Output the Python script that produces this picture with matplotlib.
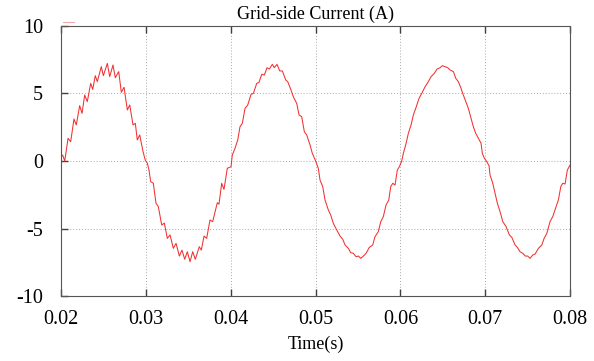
import numpy as np
import matplotlib
matplotlib.use("Agg")
import matplotlib.pyplot as plt
from matplotlib.lines import Line2D

# values (time in s, current in A)
time_s = [
    0.02000, 0.02020, 0.02044, 0.02083, 0.02114, 0.02153, 0.02180, 0.02220,
    0.02248, 0.02279, 0.02310, 0.02350, 0.02374, 0.02404, 0.02428, 0.02475,
    0.02499, 0.02546, 0.02574, 0.02613, 0.02640, 0.02680, 0.02711, 0.02743,
    0.02782, 0.02810, 0.02849, 0.02876, 0.02899, 0.02928, 0.02967, 0.02994,
    0.03017, 0.03037, 0.03057, 0.03088, 0.03120, 0.03147, 0.03187, 0.03218,
    0.03253, 0.03285, 0.03324, 0.03356, 0.03395, 0.03426, 0.03458, 0.03489,
    0.03521, 0.03552, 0.03583, 0.03630, 0.03654, 0.03686, 0.03717, 0.03756,
    0.03788, 0.03842, 0.03862, 0.03894, 0.03921, 0.03960, 0.04004, 0.04019,
    0.04051, 0.04083, 0.04110, 0.04137, 0.04169, 0.04201, 0.04240, 0.04267,
    0.04307, 0.04334, 0.04366, 0.04397, 0.04428, 0.04455, 0.04491, 0.04514,
    0.04546, 0.04578, 0.04609, 0.04649, 0.04672, 0.04711, 0.04738, 0.04778,
    0.04806, 0.04837, 0.04868, 0.04896, 0.04935, 0.04962, 0.05002, 0.05033,
    0.05053, 0.05085, 0.05112, 0.05151, 0.05179, 0.05210, 0.05250, 0.05289,
    0.05321, 0.05348, 0.05387, 0.05415, 0.05446, 0.05478, 0.05505, 0.05533,
    0.05564, 0.05595, 0.05634, 0.05674, 0.05701, 0.05740, 0.05769, 0.05799,
    0.05831, 0.05863, 0.05886, 0.05910, 0.05937, 0.05964, 0.05988, 0.06016,
    0.06035, 0.06063, 0.06094, 0.06126, 0.06153, 0.06181, 0.06220, 0.06252,
    0.06291, 0.06330, 0.06362, 0.06401, 0.06432, 0.06468, 0.06495, 0.06527,
    0.06558, 0.06586, 0.06625, 0.06653, 0.06683, 0.06715, 0.06742, 0.06771,
    0.06801, 0.06833, 0.06860, 0.06888, 0.06919, 0.06951, 0.06966, 0.06990,
    0.07018, 0.07045, 0.07057, 0.07089, 0.07116, 0.07143, 0.07175, 0.07207,
    0.07246, 0.07285, 0.07313, 0.07352, 0.07379, 0.07411, 0.07442, 0.07473,
    0.07501, 0.07529, 0.07560, 0.07588, 0.07627, 0.07667, 0.07694, 0.07726,
    0.07764, 0.07796, 0.07835, 0.07862, 0.07891, 0.07914, 0.07941, 0.07968,
    0.08000,
]
current_a = [
    0.30, 0.44, 0.00, 1.68, 1.43, 3.11, 2.67, 4.10,
    3.53, 4.89, 4.40, 5.75, 5.30, 6.32, 5.88, 6.99,
    6.32, 7.23, 6.25, 7.11, 6.17, 6.62, 5.09, 5.46,
    3.78, 4.15, 2.67, 2.79, 1.56, 1.93, 0.69, 0.05,
    -0.15, -0.67, -1.53, -1.65, -3.13, -3.38, -4.74, -4.60,
    -5.73, -5.48, -6.47, -6.10, -7.04, -6.60, -7.28, -6.72,
    -7.46, -6.72, -7.28, -6.35, -6.60, -5.56, -5.73, -4.37,
    -4.49, -3.09, -3.20, -1.65, -2.10, -0.54, -0.42, 0.44,
    0.94, 1.56, 2.54, 2.79, 3.90, 4.15, 4.94, 5.01,
    5.75, 5.83, 6.42, 6.37, 6.91, 6.81, 7.16, 6.91,
    7.16, 6.67, 6.67, 6.00, 5.88, 5.26, 4.76, 4.27,
    3.41, 3.28, 2.17, 1.93, 1.19, 0.57, 0.00, -0.55,
    -1.41, -1.90, -2.89, -3.63, -4.00, -4.62, -5.11, -5.56,
    -5.80, -6.22, -6.47, -6.79, -6.84, -7.09, -7.04, -7.21,
    -7.04, -6.84, -6.40, -6.22, -5.60, -5.23, -4.49, -4.12,
    -3.26, -2.89, -1.90, -1.65, -1.78, -0.67, -0.42, 0.00,
    0.57, 1.19, 2.05, 2.67, 3.41, 3.90, 4.64, 5.01,
    5.50, 5.88, 6.25, 6.50, 6.81, 6.91, 7.06, 6.99,
    6.91, 6.74, 6.62, 6.12, 5.88, 5.38, 4.89, 4.40,
    3.90, 3.16, 2.54, 2.05, 1.68, 1.31, 0.57, 0.20,
    -0.05, -0.35, -1.04, -1.65, -2.39, -3.13, -3.75, -4.49,
    -4.86, -5.48, -5.65, -6.22, -6.40, -6.72, -6.84, -7.04,
    -7.04, -7.21, -6.96, -6.89, -6.47, -6.22, -5.73, -5.36,
    -4.49, -4.12, -3.38, -2.89, -1.90, -1.65, -1.70, -0.67,
    -0.30,
]
x_ticks = [0.02, 0.03, 0.04, 0.05, 0.06, 0.07, 0.08]
y_ticks = [-10, -5, 0, 5, 10]

plt.rcParams['font.family'] = ['Liberation Serif', 'DejaVu Serif']

fig = plt.figure(figsize=(5.94, 3.61), dpi=100)
ax = fig.add_axes([0.1027, 0.18, 0.857, 0.748])

ax.plot(time_s, current_a, color='#f23030', lw=0.75)

ax.set_xlim(0.02, 0.08)
ax.set_ylim(-10, 10)
ax.set_xticks(x_ticks)
ax.set_xticklabels([f"{v:.2f}" for v in x_ticks])
ax.set_yticks(y_ticks)
ax.set_yticklabels([str(v) for v in y_ticks])

ax.grid(True, color='#a8a8a8', lw=0.7, linestyle=(0, (1, 2)))
for sp in ax.spines.values():
    sp.set_color('#555555')
    sp.set_linewidth(0.8)
    sp.set_linestyle((0, (2, 1)))

ax.tick_params(axis='both', direction='in', length=5, width=1.0,
               color='#404040', labelsize=14.5, top=True, right=False)
ax.tick_params(axis='y', pad=13)
ax.tick_params(axis='x', pad=10)

ax.set_title("Grid-side Current (A)", fontsize=13, pad=5)
ax.set_xlabel("Time(s)", fontsize=13, labelpad=5)

# faint legend sample left over in the top-left corner
ax.add_line(Line2D([0.003, 0.025], [1.016, 1.016], transform=ax.transAxes,
                   color='#f4a8a8', lw=0.8, clip_on=False))

fig.savefig("out.png", dpi=100)
